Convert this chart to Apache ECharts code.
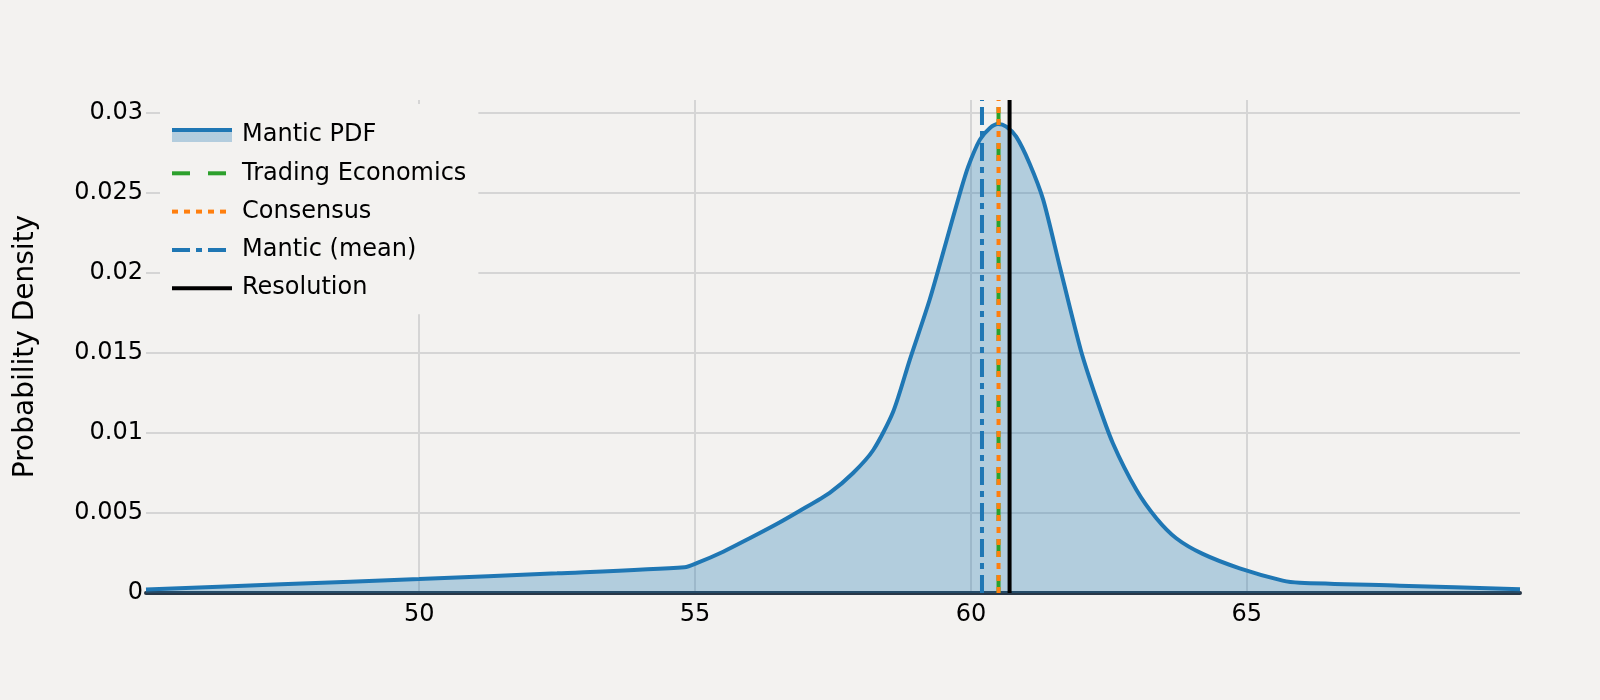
<!DOCTYPE html>
<html>
<head>
<meta charset="utf-8">
<script src="https://cdn.jsdelivr.net/npm/echarts@6/dist/echarts.min.js"></script>
<style>
  html, body { margin: 0; padding: 0; background: #f3f2f0; }
  #chart { width: 1600px; height: 700px; }
</style>
</head>
<body>
<div id="chart"></div>
<script>
// ---- Data ----
const pdfX = [45.05, 47.5, 50.0, 52.5, 54.81, 55.03, 55.51, 55.99, 56.48, 56.90, 57.44, 57.86, 58.23, 58.59, 58.89, 59.25, 59.56, 59.80, 59.95, 60.16, 60.34, 60.49, 60.64, 60.82, 61.06, 61.31, 61.61, 61.99, 62.27, 62.57, 63.00, 63.36, 63.72, 64.20, 64.87, 65.65, 65.96, 67.77, 69.95];
const pdfY = [0.00022, 0.00054, 0.00087, 0.00123, 0.00161, 0.00186, 0.00258, 0.00342, 0.00431, 0.00514, 0.00626, 0.00748, 0.00893, 0.01132, 0.01455, 0.0183, 0.02205, 0.02497, 0.02663, 0.0283, 0.02903, 0.02929, 0.02913, 0.0285, 0.02684, 0.02455, 0.02038, 0.01518, 0.01218, 0.00937, 0.00643, 0.00467, 0.00342, 0.00244, 0.00154, 0.00077, 0.00064, 0.00046, 0.00023];

const markerNames = ['Trading Economics', 'Consensus', 'Mantic (mean)', 'Resolution'];
const markerValues = [60.5, 60.5, 60.2, 60.7];
const lineTop = 0.03079;   // vertical reference lines reach 1.05 x peak density

const xRange = [45.05, 69.95];
const yTicks = [0, 0.005, 0.01, 0.015, 0.02, 0.025, 0.03];

// ---- Styles ----
const BG = '#f3f2f0';
const GRID = '#d5d5d5';
const FONT = 'DejaVu Sans';
const markerStyles = [
  { color: '#2ca02c', type: [18, 18] },
  { color: '#ff7f0e', type: [6, 6] },
  { color: '#1f77b4', type: [18, 6, 6, 6] },
  { color: '#000000', type: 'solid' }
];

const pdfSeries = {
  name: 'Mantic PDF',
  type: 'line',
  data: pdfX.map((x, i) => [x, pdfY[i]]),
  symbol: 'none',
  smooth: 0.25,
  lineStyle: { color: '#1f77b4', width: 4 },
  itemStyle: { color: '#1f77b4' },
  areaStyle: { color: '#1f77b4', opacity: 0.3, origin: 'start' },
  z: 2
};

const markerSeries = markerNames.map((name, i) => ({
  name: name,
  type: 'line',
  data: [[markerValues[i], 0], [markerValues[i], lineTop]],
  symbol: 'none',
  lineStyle: { color: markerStyles[i].color, width: 4, type: markerStyles[i].type },
  itemStyle: { color: markerStyles[i].color },
  z: 3 + i
}));

const legendData = [
  {
    name: 'Mantic PDF',
    icon: 'rect',
    itemStyle: {
      opacity: 1,
      color: {
        type: 'linear', x: 0, y: 0, x2: 0, y2: 1,
        colorStops: [
          { offset: 0, color: '#1f77b4' },
          { offset: 0.3, color: '#1f77b4' },
          { offset: 0.3, color: 'rgba(31,119,180,0.3)' },
          { offset: 1, color: 'rgba(31,119,180,0.3)' }
        ]
      },
      borderWidth: 0
    }
  }
].concat(markerNames.map((name, i) => ({
  name: name,
  itemStyle: { opacity: 0 },
  lineStyle: { color: markerStyles[i].color, width: 4, type: markerStyles[i].type, opacity: 1 }
})));

const chart = echarts.init(document.getElementById('chart'), null, { renderer: 'canvas' });
chart.setOption({
  backgroundColor: BG,
  animation: false,
  textStyle: { fontFamily: FONT },
  grid: { left: 146, right: 80, top: 100, bottom: 107, containLabel: false },
  legend: {
    orient: 'vertical',
    left: 160,
    top: 104,
    padding: [19, 12, 14, 10],
    backgroundColor: BG,
    itemWidth: 60,
    itemHeight: 14,
    itemGap: 14.3,
    textStyle: { fontFamily: FONT, fontSize: 24, color: '#000', lineHeight: 24, padding: [0, 0, 0, 5] },
    data: legendData
  },
  xAxis: {
    type: 'value',
    min: xRange[0],
    max: xRange[1],
    splitNumber: 5,
    axisLine: { show: true, lineStyle: { color: '#283848', width: 4 } },
    axisTick: { show: false },
    axisLabel: {
      fontFamily: FONT, fontSize: 24, color: '#000', margin: 10,
      showMinLabel: false, showMaxLabel: false
    },
    splitLine: { show: true, showMinLine: false, showMaxLine: false, lineStyle: { color: GRID, width: 2 } }
  },
  yAxis: {
    type: 'value',
    min: yTicks[0],
    max: lineTop,
    interval: yTicks[1] - yTicks[0],
    name: 'Probability Density',
    nameLocation: 'middle',
    nameGap: 106,
    nameTextStyle: { fontFamily: FONT, fontSize: 28, color: '#000' },
    axisLine: { show: false },
    axisTick: { show: false },
    axisLabel: {
      fontFamily: FONT, fontSize: 24, color: '#000', margin: 3,
      showMaxLabel: false,
      formatter: v => String(+v.toFixed(4))
    },
    splitLine: { show: true, showMaxLine: false, lineStyle: { color: GRID, width: 2 } }
  },
  series: [pdfSeries].concat(markerSeries)
});
</script>
</body>
</html>
